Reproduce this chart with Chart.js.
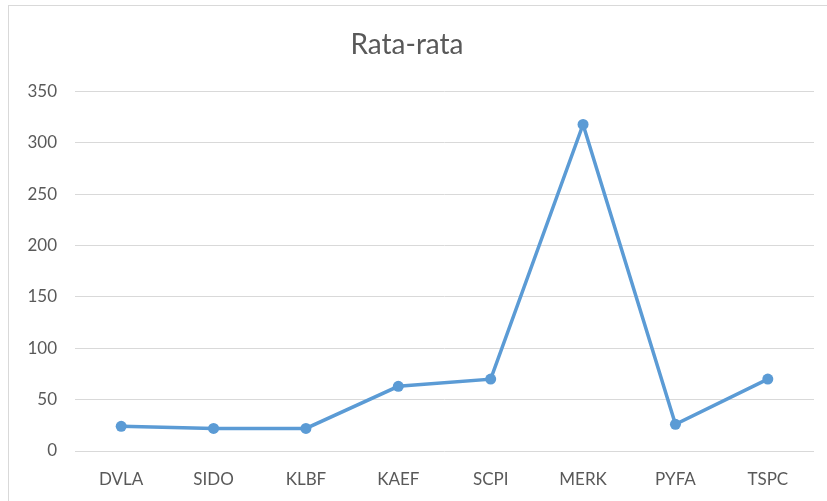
<!DOCTYPE html>
<html>
<head>
<meta charset="utf-8">
<script src="https://cdn.jsdelivr.net/npm/chart.js@4"></script>
<style>
  html, body { margin: 0; padding: 0; background: #fff; }
  #wrap { position: relative; width: 827px; height: 501px; overflow: hidden; }
  #frame { position: absolute; left: 8px; top: 5px; width: 900px; height: 600px; border: 1px solid #d9d9d9; box-sizing: border-box; }
  canvas { position: absolute; left: 0; top: 0; }
</style>
</head>
<body>
<div id="wrap">
  <div id="frame"></div>
  <canvas id="chart" width="827" height="501"></canvas>
</div>
<script>
// data
var labels = ['DVLA', 'SIDO', 'KLBF', 'KAEF', 'SCPI', 'MERK', 'PYFA', 'TSPC'];
var rataRata = [24, 22, 22, 63, 70, 318, 26, 70];
var yTicks = [0, 50, 100, 150, 200, 250, 300, 350];

var fontFamily = 'Lato, "Open Sans", sans-serif';

var ctx = document.getElementById('chart').getContext('2d');
var chart = new Chart(ctx, {
    type: 'line',
    data: {
        labels: labels,
        datasets: [{
            label: 'Rata-rata',
            data: rataRata,
            borderColor: '#5B9BD5',
            backgroundColor: '#5B9BD5',
            borderWidth: 3.5,
            pointRadius: 5.5,
            pointBorderWidth: 0,
            tension: 0
        }]
    },
    options: {
        responsive: false,
        animation: false,
        layout: { padding: { left: 0, right: 13, top: 0, bottom: 0 } },
        plugins: {
            legend: { display: false },
            tooltip: { enabled: false },
            title: {
                display: true,
                text: 'Rata-rata',
                color: '#595959',
                font: { family: fontFamily, size: 28, weight: 'normal' },
                padding: { top: 28, bottom: 30 }
            }
        },
        scales: {
            x: {
                offset: true,
                grid: { display: false, drawTicks: false },
                border: { display: false },
                ticks: {
                    color: '#595959',
                    padding: 18,
                    font: { family: fontFamily, size: 17 }
                },
                afterFit: function(scale) { scale.height = 50; }
            },
            y: {
                min: 0,
                max: 350,
                afterBuildTicks: function(scale) {
                    scale.ticks = yTicks.map(v => ({ value: v }));
                },
                grid: { color: '#d9d9d9', drawTicks: false },
                border: { display: false },
                ticks: {
                    color: '#595959',
                    padding: 18,
                    font: { family: fontFamily, size: 17 }
                },
                afterFit: function(scale) { scale.width = 75; }
            }
        }
    }
});
</script>
</body>
</html>
